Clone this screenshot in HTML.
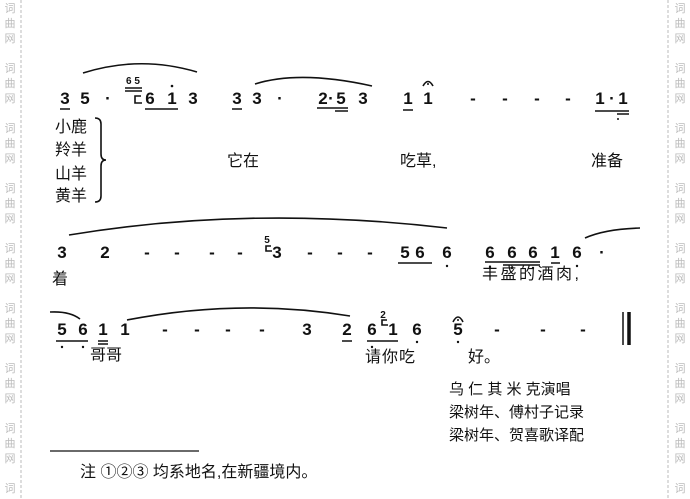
<!DOCTYPE html>
<html><head><meta charset="utf-8"><style>
html,body{margin:0;padding:0;background:#fff;}
svg{display:block;}
.n{font-family:"Liberation Sans",sans-serif;font-weight:bold;font-size:17px;fill:#111;text-anchor:middle;}
.s{font-family:"Liberation Sans",sans-serif;font-weight:bold;font-size:10px;fill:#111;text-anchor:middle;}
.l{font-family:"Liberation Sans","Noto Sans CJK SC",sans-serif;font-size:16px;fill:#111;}
.w{font-family:"Noto Sans CJK SC",sans-serif;font-size:11px;fill:#bbb;text-anchor:middle;}
.sl{fill:none;stroke:#111;stroke-width:1.6;}
.u{stroke:#111;stroke-width:1.5;}
</style></head><body>
<svg width="690" height="499" viewBox="0 0 690 499" xmlns="http://www.w3.org/2000/svg">
<line x1="21" y1="0" x2="21" y2="499" stroke="#bbb" stroke-dasharray="3,2"/>
<line x1="668" y1="0" x2="668" y2="499" stroke="#bbb" stroke-dasharray="3,2"/>
<g class="w">
<text x="10" y="12">词</text><text x="10" y="27">曲</text><text x="10" y="42">网</text>
<text x="10" y="72">词</text><text x="10" y="87">曲</text><text x="10" y="102">网</text>
<text x="10" y="132">词</text><text x="10" y="147">曲</text><text x="10" y="162">网</text>
<text x="10" y="192">词</text><text x="10" y="207">曲</text><text x="10" y="222">网</text>
<text x="10" y="252">词</text><text x="10" y="267">曲</text><text x="10" y="282">网</text>
<text x="10" y="312">词</text><text x="10" y="327">曲</text><text x="10" y="342">网</text>
<text x="10" y="372">词</text><text x="10" y="387">曲</text><text x="10" y="402">网</text>
<text x="10" y="432">词</text><text x="10" y="447">曲</text><text x="10" y="462">网</text>
<text x="10" y="492">词</text>
<text x="680" y="12">词</text><text x="680" y="27">曲</text><text x="680" y="42">网</text>
<text x="680" y="72">词</text><text x="680" y="87">曲</text><text x="680" y="102">网</text>
<text x="680" y="132">词</text><text x="680" y="147">曲</text><text x="680" y="162">网</text>
<text x="680" y="192">词</text><text x="680" y="207">曲</text><text x="680" y="222">网</text>
<text x="680" y="252">词</text><text x="680" y="267">曲</text><text x="680" y="282">网</text>
<text x="680" y="312">词</text><text x="680" y="327">曲</text><text x="680" y="342">网</text>
<text x="680" y="372">词</text><text x="680" y="387">曲</text><text x="680" y="402">网</text>
<text x="680" y="432">词</text><text x="680" y="447">曲</text><text x="680" y="462">网</text>
<text x="680" y="492">词</text>
</g>

<!-- Row 1 -->
<path class="sl" d="M83 73 Q140 55 197 72"/>
<path class="sl" d="M255 84 Q300 70 372 86"/>
<g class="n">
<text x="65" y="104">3</text><text x="85" y="104">5</text><text x="108" y="104">·</text>
<text x="150" y="104">6</text><text x="172" y="104">1</text><text x="193" y="104">3</text>
<text x="237" y="104">3</text><text x="257" y="104">3</text><text x="280" y="104">·</text>
<text x="323" y="104">2</text><text x="331" y="104">·</text><text x="341" y="104">5</text>
<text x="363" y="104">3</text><text x="408" y="104">1</text><text x="428" y="104">1</text>
<text x="473" y="104">-</text><text x="505" y="104">-</text><text x="537" y="104">-</text><text x="568" y="104">-</text>
<text x="600" y="104">1</text><text x="612" y="104">·</text><text x="623" y="104">1</text>
</g>
<text class="s" x="133" y="84">6 5</text>
<line class="u" x1="125" y1="88" x2="142" y2="88"/><line class="u" x1="125" y1="91" x2="142" y2="91"/>
<path class="sl" d="M141 96 L135 96 L135 103 L142 103" stroke-width="1"/>
<circle cx="172" cy="86" r="1.3" fill="#111"/>
<path class="sl" d="M423 86 Q428 77 433 86" stroke-width="1.2"/><circle cx="428" cy="84" r="1" fill="#111"/>
<line class="u" x1="60" y1="109" x2="70" y2="109"/>
<line class="u" x1="145" y1="109" x2="178" y2="109"/>
<line class="u" x1="232" y1="109" x2="242" y2="109"/>
<line class="u" x1="317" y1="108" x2="348" y2="108"/><line class="u" x1="335" y1="111" x2="348" y2="111"/>
<line class="u" x1="403" y1="110" x2="413" y2="110"/>
<line class="u" x1="595" y1="111" x2="629" y2="111"/><line class="u" x1="617" y1="114" x2="629" y2="114"/>
<circle cx="618" cy="119" r="1" fill="#111"/>
<g class="l">
<text x="55" y="132">小鹿</text><text x="55" y="155">羚羊</text><text x="55" y="179">山羊</text><text x="55" y="201">黄羊</text>
<text x="227" y="166">它在</text><text x="400" y="166">吃草,</text><text x="591" y="166">准备</text>
</g>
<path class="sl" stroke-width="1.2" d="M95 118 Q101 118 101 124 L101 154 Q101 160 106 160 Q101 160 101 166 L101 196 Q101 202 95 202"/>

<!-- Row 2 -->
<path class="sl" d="M69 235 Q250 205 447 228"/>
<path class="sl" d="M585 238 Q605 229 640 228"/>
<g class="n">
<text x="62" y="258">3</text><text x="105" y="258">2</text>
<text x="147" y="258">-</text><text x="177" y="258">-</text><text x="212" y="258">-</text><text x="240" y="258">-</text>
<text x="277" y="258">3</text>
<text x="310" y="258">-</text><text x="340" y="258">-</text><text x="370" y="258">-</text>
<text x="405" y="258">5</text><text x="420" y="258">6</text><text x="447" y="258">6</text>
<text x="490" y="258">6</text><text x="512" y="258">6</text><text x="533" y="258">6</text><text x="555" y="258">1</text><text x="577" y="258">6</text><text x="602" y="258">·</text>
</g>
<text class="s" x="267" y="243">5</text>
<path class="sl" d="M271 246 L266 246 L266 251 L272 251" stroke-width="1"/>
<line class="u" x1="398" y1="263" x2="432" y2="263"/>
<line class="u" x1="485" y1="262" x2="540" y2="262"/><line class="u" x1="503" y1="265" x2="540" y2="265"/>
<line class="u" x1="551" y1="263" x2="560" y2="263"/>
<circle cx="447" cy="266" r="1.2" fill="#111"/><circle cx="490" cy="267" r="1.2" fill="#111"/><circle cx="512" cy="268" r="1.2" fill="#111"/><circle cx="533" cy="268" r="1.2" fill="#111"/><circle cx="577" cy="266" r="1.2" fill="#111"/>
<g class="l">
<text x="52" y="284">着</text><text x="482" y="279" letter-spacing="2.5">丰盛的酒肉,</text>
</g>

<!-- Row 3 -->
<path class="sl" d="M50 312 Q70 311 80 319"/>
<path class="sl" d="M127 320 Q240 298 350 316"/>
<g class="n">
<text x="62" y="335">5</text><text x="83" y="335">6</text><text x="103" y="335">1</text><text x="125" y="335">1</text>
<text x="165" y="335">-</text><text x="197" y="335">-</text><text x="228" y="335">-</text><text x="262" y="335">-</text>
<text x="307" y="335">3</text><text x="347" y="335">2</text><text x="372" y="335">6</text><text x="393" y="335">1</text><text x="417" y="335">6</text><text x="458" y="335">5</text>
<text x="497" y="335">-</text><text x="543" y="335">-</text><text x="583" y="335">-</text>
</g>
<text class="s" x="383" y="318">2</text>
<path class="sl" d="M387 320 L382 320 L382 325 L388 325" stroke-width="1"/>
<line class="u" x1="56" y1="341" x2="88" y2="341"/>
<circle cx="62" cy="347" r="1.2" fill="#111"/><circle cx="83" cy="347" r="1.2" fill="#111"/>
<line class="u" x1="98" y1="341" x2="108" y2="341"/><line class="u" x1="98" y1="344" x2="108" y2="344"/>
<line class="u" x1="342" y1="341" x2="352" y2="341"/>
<line class="u" x1="367" y1="341" x2="398" y2="341"/>
<circle cx="372" cy="347" r="1.2" fill="#111"/><circle cx="417" cy="342" r="1.2" fill="#111"/><circle cx="458" cy="342" r="1.2" fill="#111"/>
<path class="sl" d="M453 322 Q458 312 463 322" stroke-width="1.2"/><circle cx="458" cy="320" r="1" fill="#111"/>
<line x1="623" y1="312" x2="623" y2="345" stroke="#111" stroke-width="1.5"/>
<line x1="629" y1="312" x2="629" y2="345" stroke="#111" stroke-width="3.5"/>
<g class="l">
<text x="90" y="360">哥哥</text><text x="365" y="362" letter-spacing="1">请你吃</text><text x="468" y="362">好。</text>
</g>

<!-- Credits -->
<g class="l" font-size="15">
<text x="449" y="394" font-size="15">乌 仁 其 米 克演唱</text>
<text x="449" y="417" font-size="15">梁树年、傅村子记录</text>
<text x="449" y="440" font-size="15">梁树年、贺喜歌译配</text>
</g>
<line x1="50" y1="451" x2="199" y2="451" stroke="#111" stroke-width="1.3"/>
<text class="l" x="80" y="477" font-size="14">注 ①②③ 均系地名,在新疆境内。</text>
</svg>
</body></html>
